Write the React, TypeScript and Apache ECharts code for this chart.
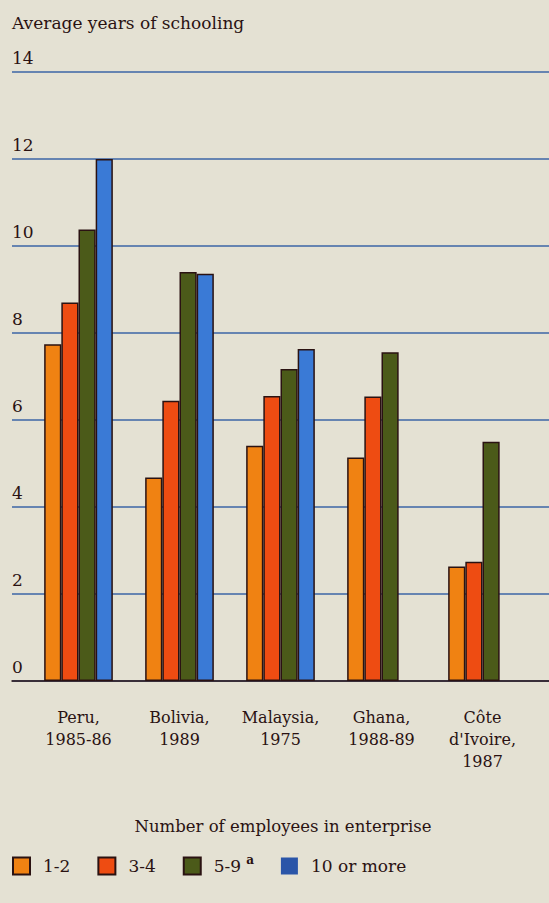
import React, { useEffect, useRef } from "react";
import * as echarts from "echarts";

const categories = ["Peru,\n1985-86", "Bolivia,\n1989", "Malaysia,\n1975", "Ghana,\n1988-89", "Côte\nd'Ivoire,\n1987"];
const seriesNames = ["1-2", "3-4", "5-9", "10 or more"];
const emp12 = [7.74, 4.68, 5.41, 5.14, 2.63];
const emp34 = [8.7, 6.44, 6.55, 6.54, 2.74];
const emp59 = [10.38, 9.4, 7.17, 7.56, 5.5];
const emp10 = [12.0, 9.36, 7.63, null, null];
const yTicks = [0, 2, 4, 6, 8, 10, 12, 14];

const colors = ["#f08212", "#ee4c12", "#4b5a19", "#3a7ad6"];
const bg = "#e4e1d3";
const ink = "#2a1212";
const FONT = "'DejaVu Serif', serif";

export default function App() {
  const ref = useRef<HTMLDivElement>(null);
  useEffect(() => {
    document.body.style.margin = "0";
    const chart = echarts.init(ref.current!, null, { renderer: "svg" });
    const data = [emp12, emp34, emp59, emp10];
    const top = 72;
    const height = 609;
    chart.setOption({
      animation: false,
      backgroundColor: bg,
      textStyle: { fontFamily: FONT, color: ink },
      title: [
        {
          text: "Average years of schooling",
          left: 12,
          top: 14,
          padding: 0,
          textStyle: { fontFamily: FONT, fontSize: 17, fontWeight: "normal", color: ink },
        },
        {
          text: "Number of employees in enterprise",
          left: 283,
          textAlign: "center",
          top: 818,
          padding: 0,
          textStyle: { fontFamily: FONT, fontSize: 16.5, fontWeight: "normal", color: ink },
        },
      ],
      legend: {
        left: 12,
        top: 854,
        padding: 0,
        icon: "rect",
        itemWidth: 17,
        itemHeight: 17,
        itemGap: 27,
        textStyle: {
          fontFamily: FONT,
          fontSize: 17,
          color: ink,
          padding: [0, 0, 0, 8],
          rich: { sup: { fontFamily: FONT, fontSize: 12, fontWeight: "bold", color: ink, verticalAlign: "top", padding: [0, 0, 12, 5] } },
        },
        formatter: (n: string) => (n === "5-9" ? "5-9{sup|a}" : n),
        data: seriesNames.map((n, i) =>
          i === 3 ? { name: n, itemStyle: { borderWidth: 0, color: "#2a55a8" } } : { name: n }
        ),
      },
      grid: [
        { left: 28, width: 505, top, height },
        { left: 12, right: 0, top, height },
      ],
      xAxis: [
        {
          type: "category",
          gridIndex: 0,
          data: categories,
          axisLine: { show: false },
          axisTick: { show: false },
          axisLabel: { fontFamily: FONT, fontSize: 16, color: ink, lineHeight: 22, margin: 25, interval: 0 },
        },
        {
          type: "value",
          gridIndex: 1,
          min: 0,
          max: 1,
          axisLabel: { show: false },
          axisTick: { show: false },
          splitLine: { show: false },
          axisLine: { show: true, lineStyle: { color: ink, width: 1.5 } },
        },
      ],
      yAxis: [
        {
          type: "value",
          gridIndex: 0,
          min: 0,
          max: 14,
          interval: 2,
          show: false,
          splitLine: { show: false },
        },
        {
          type: "value",
          gridIndex: 1,
          min: 0,
          max: 14,
          interval: 2,
          axisLine: { show: false },
          axisTick: { show: false },
          splitLine: { show: true, lineStyle: { color: "#3d64a6", width: 1.5 } },
          axisLabel: {
            inside: true,
            margin: 0,
            align: "left",
            verticalAlign: "bottom",
            padding: [0, 0, 6, 0],
            fontFamily: FONT,
            fontSize: 17,
            color: ink,
            formatter: (v: number) => (yTicks.includes(v) ? String(v) : ""),
          },
        },
      ],
      series: seriesNames.map((name, i) => ({
        name,
        type: "bar",
        xAxisIndex: 0,
        yAxisIndex: 0,
        data: data[i],
        barGap: "0%",
        barCategoryGap: "32%",
        itemStyle: { color: colors[i], borderColor: ink, borderWidth: 1.5 },
        z: 3,
      })),
    });
    return () => chart.dispose();
  }, []);
  return <div ref={ref} style={{ position: "fixed", left: 0, top: 0, width: 549, height: 903 }} />;
}
